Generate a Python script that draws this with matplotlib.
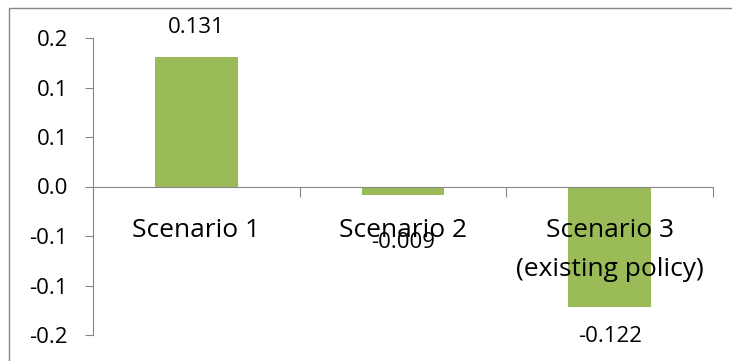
import matplotlib
matplotlib.use("Agg")
import matplotlib.pyplot as plt
from matplotlib.patches import Rectangle

categories = ["Scenario 1", "Scenario 2", "Scenario 3\n(existing policy)"]
values = [0.131, -0.009, -0.122]
value_labels = ["0.131", "-0.009", "-0.122"]
yticks = [0.15, 0.10, 0.05, 0.0, -0.05, -0.10, -0.15]
ytick_labels = ["0.2", "0.1", "0.1", "0.0", "-0.1", "-0.1", "-0.2"]

plt.rcParams["font.family"] = ["Open Sans", "DejaVu Sans"]
GRAY = "#868686"
GREEN = "#9BBB59"

fig = plt.figure(figsize=(7.32, 3.61), dpi=100)
fig.patches.append(Rectangle((9 / 732, -0.05), 1.0, 1 - 8 / 361 + 0.05,
                             transform=fig.transFigure, fill=False,
                             edgecolor=GRAY, lw=1.0))
ax = fig.add_axes([93 / 732, 1 - 335 / 361, 620 / 732, 297 / 361])
x = list(range(len(categories)))
ax.bar(x, values, width=0.4, color=GREEN, zorder=1)

ax.set_xlim(-0.5, len(categories) - 0.5)
ax.set_ylim(-0.15, 0.15)
ax.set_yticks(yticks)
ax.set_yticklabels(ytick_labels, fontsize=16)
ax.tick_params(axis="y", direction="out", length=6, color=GRAY, pad=12)

ax.spines["bottom"].set_position(("data", 0))
for s in ("top", "right"):
    ax.spines[s].set_visible(False)
for s in ("left", "bottom"):
    ax.spines[s].set_color(GRAY)
ax.set_xticks([-0.5, 0.5, 1.5, 2.5])
ax.set_xticklabels([])
ax.tick_params(axis="x", which="major", direction="out", length=7, color=GRAY)
ax.set_xticks(x, minor=True)
ax.set_xticklabels(categories, minor=True, fontsize=19, linespacing=1.7)
ax.tick_params(axis="x", which="minor", length=0, pad=23)

offsets = [21, -34, -21]
for xi, v, lab, off in zip(x, values, value_labels, offsets):
    ax.annotate(lab, (xi, v), xytext=(0, off), textcoords="offset points",
                ha="center", va="center", fontsize=16)

fig.savefig("out.png", dpi=100)
